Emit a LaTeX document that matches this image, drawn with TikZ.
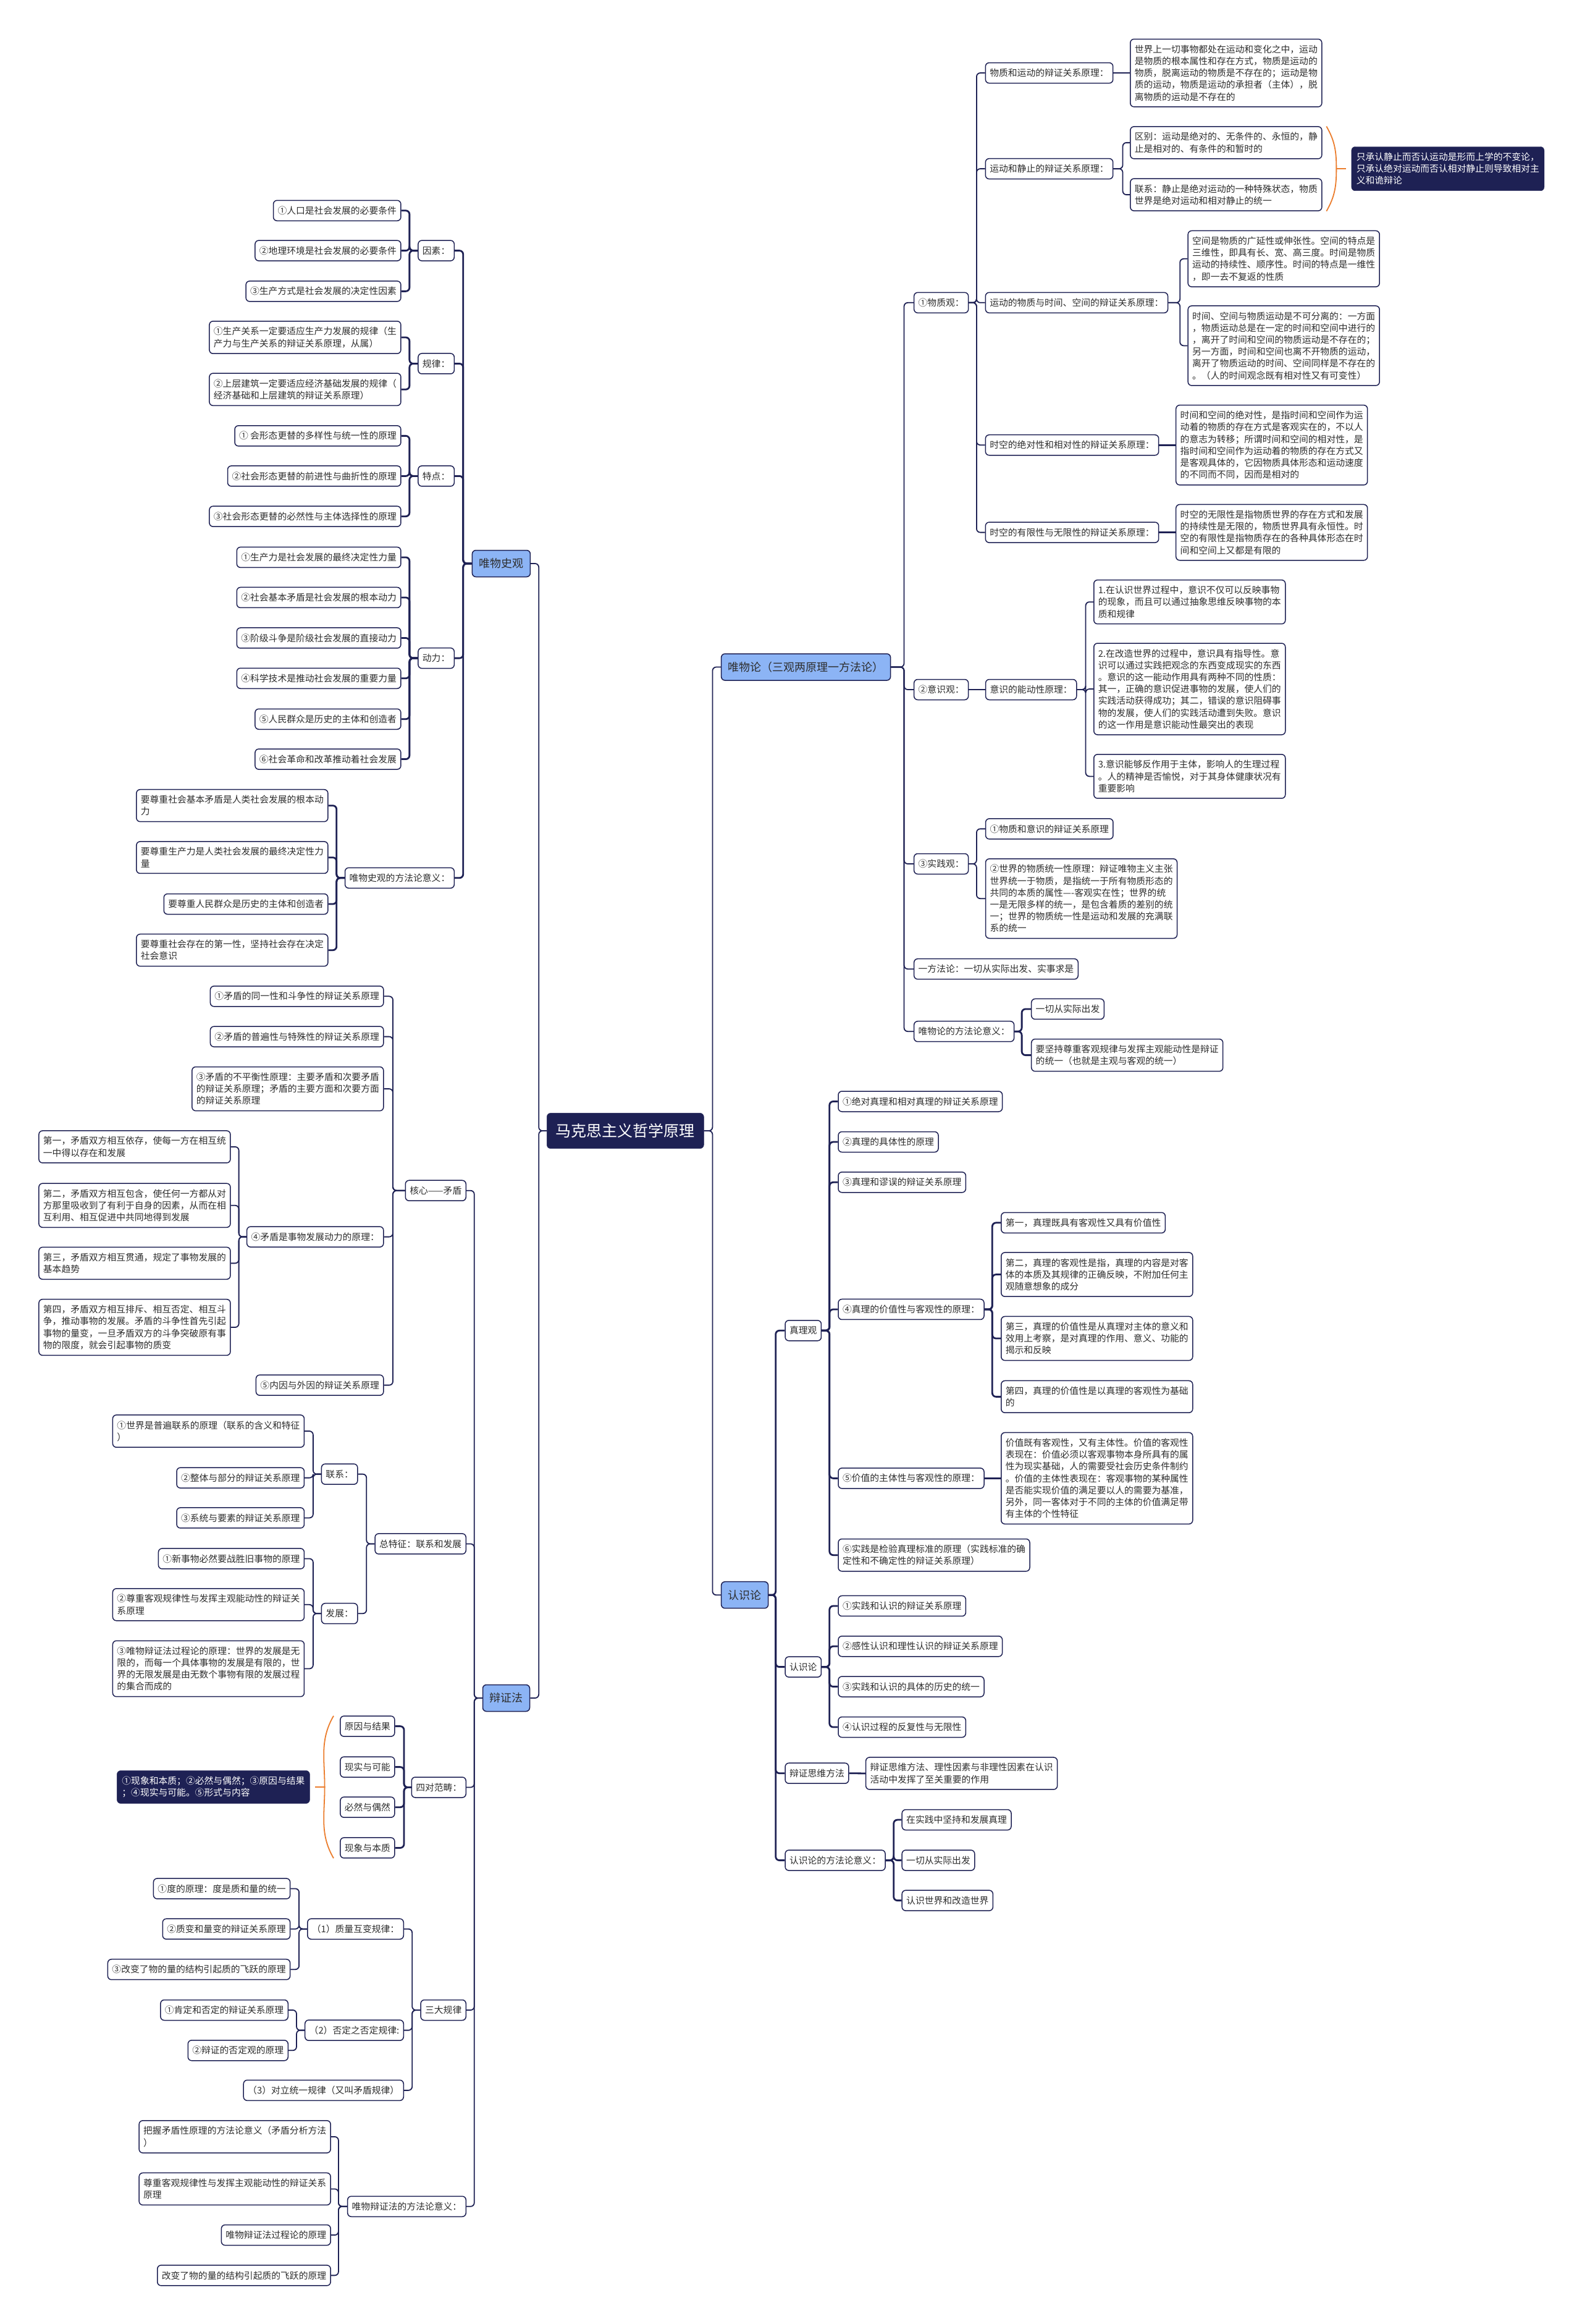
\documentclass[tikz,border=0pt]{standalone}
\usepackage{fontspec}
\setmainfont{Noto Sans CJK SC}
\definecolor{navy}{RGB}{30,33,84}
\definecolor{lblue}{RGB}{140,180,245}
\definecolor{txt}{RGB}{45,45,45}
\definecolor{orng}{RGB}{235,125,45}
\newcommand\fsN{\fontsize{14.8pt}{19.2pt}\selectfont}
\newcommand\fsL{\fontsize{18pt}{22pt}\selectfont}
\newcommand\fsR{\fontsize{25pt}{30pt}\selectfont}
\newcommand\conL[4][elb]{\draw[#1] (#2.west) -- (#2.west -| #4) |- (#3.east);}
\newcommand\conR[4][elb]{\draw[#1] (#2.east) -- (#2.east -| #4) |- (#3.west);}
\tikzset{
 box/.style={draw=navy, line width=1.5pt, rounded corners=6pt, fill=white, text=txt,
   inner xsep=7pt, inner ysep=9.5pt, align=left, font=\fsN, minimum height=33pt},
 lnode/.style={box, anchor=east},
 rnode/.style={box, anchor=west},
 lone/.style={draw=navy, line width=1.5pt, rounded corners=6pt, fill=lblue, text=txt,
   inner xsep=11pt, inner ysep=12pt, font=\fsL, minimum height=43pt},
 rootbox/.style={draw=navy, fill=navy, rounded corners=6pt, text=white,
   inner xsep=14.5pt, inner ysep=17pt, font=\fsR},
 sumbox/.style={draw=navy, fill=navy, rounded corners=6pt, text=white,
   inner xsep=8pt, inner ysep=9.5pt, align=left, font=\fsN},
 elb/.style={draw=navy, line width=2.8pt, rounded corners=6pt},
 crv/.style={draw=navy, line width=1.8pt, rounded corners=6pt},
 brk/.style={draw=orng, line width=1.8pt},
}
\begin{document}
\begin{tikzpicture}[x=2.4pt,y=-2.4pt]
\useasboundingbox (0,0) rectangle (1066.67,1567.08);
\fill[white] (0,0) rectangle (1066.67,1567.08);
% bus coordinates
\coordinate (b0L) at (363.4,0); \coordinate (b0R) at (480.6,0);
\coordinate (bA) at (312.4,0); \coordinate (bB) at (276.2,0); \coordinate (bC) at (227,0);
\coordinate (bD) at (319.9,0); \coordinate (bE) at (265,0); \coordinate (bF) at (161.1,0);
\coordinate (bG) at (247.2,0); \coordinate (bH) at (211.2,0); \coordinate (bI) at (272.5,0);
\coordinate (bJ) at (278,0); \coordinate (bK) at (201.7,0); \coordinate (bL) at (200,0);
\coordinate (bM) at (228.3,0); \coordinate (bN) at (609.8,0); \coordinate (bO) at (658.7,0);
\coordinate (bP) at (757.3,0); \coordinate (bQ) at (795.9,0); \coordinate (bR) at (732.3,0);
\coordinate (bS) at (689.2,0); \coordinate (bT) at (523.2,0); \coordinate (bU) at (559.5,0);
\coordinate (bV) at (669.3,0); \coordinate (bW) at (602.8,0);

% root and level 1
\node[rootbox] (root) at (421.8,762.5) {马克思主义哲学原理};
\node[lone,anchor=east] (wsg) at (358,380) {唯物史观};
\node[lone,anchor=east] (bzf) at (357.6,1145) {辩证法};
\node[lone,anchor=west] (wwl) at (486.2,449.8) {唯物论（三观两原理一方法论）};
\node[lone,anchor=west] (rsl) at (486.2,1075.5) {认识论};

% ---------- 唯物史观 ----------
\node[lnode] (A1) at (306.7,169) {因素：};
\node[lnode] (A2) at (306.7,245.2) {规律：};
\node[lnode] (A3) at (306.7,321) {特点：};
\node[lnode] (A4) at (306.7,443.8) {动力：};
\node[lnode] (A5) at (306.7,592) {唯物史观的方法论意义：};
\node[lnode] (A11) at (270.7,142) {①人口是社会发展的必要条件};
\node[lnode] (A12) at (270.7,169) {②地理环境是社会发展的必要条件};
\node[lnode] (A13) at (270.7,196.4) {③生产方式是社会发展的决定性因素};
\node[lnode] (A21) at (270.7,227.5) {①生产关系一定要适应生产力发展的规律（生\\产力与生产关系的辩证关系原理，从属）};
\node[lnode] (A22) at (270.7,262.6) {②上层建筑一定要适应经济基础发展的规律（\\经济基础和上层建筑的辩证关系原理）};
\node[lnode] (A31) at (270.7,293.9) {① 会形态更替的多样性与统一性的原理};
\node[lnode] (A32) at (270.7,321) {②社会形态更替的前进性与曲折性的原理};
\node[lnode] (A33) at (270.7,348.2) {③社会形态更替的必然性与主体选择性的原理};
\node[lnode] (A41) at (270.7,375.8) {①生产力是社会发展的最终决定性力量};
\node[lnode] (A42) at (270.7,402.9) {②社会基本矛盾是社会发展的根本动力};
\node[lnode] (A43) at (270.7,430.2) {③阶级斗争是阶级社会发展的直接动力};
\node[lnode] (A44) at (270.7,457.4) {④科学技术是推动社会发展的重要力量};
\node[lnode] (A45) at (270.7,484.9) {⑤人民群众是历史的主体和创造者};
\node[lnode] (A46) at (270.7,511.9) {⑥社会革命和改革推动着社会发展};
\node[lnode] (A51) at (221.5,543.2) {要尊重社会基本矛盾是人类社会发展的根本动\\力};
\node[lnode] (A52) at (221.5,578.2) {要尊重生产力是人类社会发展的最终决定性力\\量};
\node[lnode] (A53) at (221.5,609.6) {要尊重人民群众是历史的主体和创造者};
\node[lnode] (A54) at (221.5,640.7) {要尊重社会存在的第一性，坚持社会存在决定\\社会意识};

% ---------- 辩证法 ----------
\node[lnode] (B1) at (314.6,802.8) {核心——矛盾};
\node[lnode] (B2) at (314.6,1041) {总特征：联系和发展};
\node[lnode] (B3) at (314.6,1205.2) {四对范畴：};
\node[lnode] (B4) at (314.6,1355.4) {三大规律};
\node[lnode] (B5) at (314.6,1487.8) {唯物辩证法的方法论意义：};
\node[lnode] (B11) at (259,671.8) {①矛盾的同一性和斗争性的辩证关系原理};
\node[lnode] (B12) at (259,699) {②矛盾的普遍性与特殊性的辩证关系原理};
\node[lnode] (B13) at (259,734.2) {③矛盾的不平衡性原理：主要矛盾和次要矛盾\\的辩证关系原理；矛盾的主要方面和次要方面\\的辩证关系原理};
\node[lnode] (B14) at (259,834) {④矛盾是事物发展动力的原理：};
\node[lnode] (B15) at (259,934) {⑤内因与外因的辩证关系原理};
\node[lnode] (B141) at (155.7,773.3) {第一，矛盾双方相互依存，使每一方在相互统\\一中得以存在和发展};
\node[lnode] (B142) at (155.7,812.8) {第二，矛盾双方相互包含，使任何一方都从对\\方那里吸收到了有利于自身的因素，从而在相\\互利用、相互促进中共同地得到发展};
\node[lnode] (B143) at (155.7,851.8) {第三，矛盾双方相互贯通，规定了事物发展的\\基本趋势};
\node[lnode] (B144) at (155.7,895) {第四，矛盾双方相互排斥、相互否定、相互斗\\争，推动事物的发展。矛盾的斗争性首先引起\\事物的量变，一旦矛盾双方的斗争突破原有事\\物的限度，就会引起事物的质变};
\node[lnode] (B21) at (241.5,994) {联系：};
\node[lnode] (B22) at (241.5,1088) {发展：};
\node[lnode] (B211) at (205.5,965) {①世界是普遍联系的原理（联系的含义和特征\\）};
\node[lnode] (B212) at (205.5,996.5) {②整体与部分的辩证关系原理};
\node[lnode] (B213) at (205.5,1023.5) {③系统与要素的辩证关系原理};
\node[lnode] (B221) at (205.5,1051) {①新事物必然要战胜旧事物的原理};
\node[lnode] (B222) at (205.5,1082) {②尊重客观规律性与发挥主观能动性的辩证关\\系原理};
\node[lnode] (B223) at (205.5,1125.2) {③唯物辩证法过程论的原理：世界的发展是无\\限的，而每一个具体事物的发展是有限的，世\\界的无限发展是由无数个事物有限的发展过程\\的集合而成的};
\node[lnode] (B31) at (266.5,1164) {原因与结果};
\node[lnode] (B32) at (266.5,1191.5) {现实与可能};
\node[lnode] (B33) at (266.5,1218.6) {必然与偶然};
\node[lnode] (B34) at (266.5,1246) {现象与本质};
\node[sumbox,anchor=east] (B3s) at (209,1205) {①现象和本质；②必然与偶然；③原因与结果\\；④现实与可能。⑤形式与内容};
\node[lnode] (B41) at (272.5,1300.7) {（1）质量互变规律：};
\node[lnode] (B42) at (272.5,1369) {（2）否定之否定规律:};
\node[lnode] (B43) at (272.5,1409.5) {（3）对立统一规律（又叫矛盾规律）};
\node[lnode] (B411) at (196,1273.5) {①度的原理：度是质和量的统一};
\node[lnode] (B412) at (196,1300.7) {②质变和量变的辩证关系原理};
\node[lnode] (B413) at (196,1328) {③改变了物的量的结构引起质的飞跃的原理};
\node[lnode] (B421) at (194.6,1355.4) {①肯定和否定的辩证关系原理};
\node[lnode] (B422) at (194.6,1382.6) {②辩证的否定观的原理};
\node[lnode] (B51) at (223.3,1440.8) {把握矛盾性原理的方法论意义（矛盾分析方法\\）};
\node[lnode] (B52) at (223.3,1476) {尊重客观规律性与发挥主观能动性的辩证关系\\原理};
\node[lnode] (B53) at (223.3,1507.1) {唯物辩证法过程论的原理};
\node[lnode] (B54) at (223.3,1534.3) {改变了物的量的结构引起质的飞跃的原理};

% ---------- 唯物论 ----------
\node[rnode] (C1) at (616.2,204.1) {①物质观：};
\node[rnode] (C2) at (616.2,465) {②意识观：};
\node[rnode] (C3) at (616.2,582.5) {③实践观：};
\node[rnode] (C4) at (616.2,653.4) {一方法论：一切从实际出发、实事求是};
\node[rnode] (C5) at (616.2,695.5) {唯物论的方法论意义：};
\node[rnode] (C11) at (664.4,49.2) {物质和运动的辩证关系原理：};
\node[rnode] (C12) at (664.4,113.8) {运动和静止的辩证关系原理：};
\node[rnode] (C13) at (664.4,204.1) {运动的物质与时间、空间的辩证关系原理：};
\node[rnode] (C14) at (664.4,300.1) {时空的绝对性和相对性的辩证关系原理：};
\node[rnode] (C15) at (664.4,359) {时空的有限性与无限性的辩证关系原理：};
\node[rnode] (C111) at (762.1,49.2) {世界上一切事物都处在运动和变化之中，运动\\是物质的根本属性和存在方式，物质是运动的\\物质，脱离运动的物质是不存在的；运动是物\\质的运动，物质是运动的承担者（主体），脱\\离物质的运动是不存在的};
\node[rnode] (C121) at (762.1,96.2) {区别：运动是绝对的、无条件的、永恒的，静\\止是相对的、有条件的和暂时的};
\node[rnode] (C122) at (762.1,131.3) {联系：静止是绝对运动的一种特殊状态，物质\\世界是绝对运动和相对静止的统一};
\node[sumbox,anchor=west] (C12s) at (911.5,113.8) {只承认静止而否认运动是形而上学的不变论，\\只承认绝对运动而否认相对静止则导致相对主\\义和诡辩论};
\node[rnode] (C131) at (801,174.5) {空间是物质的广延性或伸张性。空间的特点是\\三维性，即具有长、宽、高三度。时间是物质\\运动的持续性、顺序性。时间的特点是一维性\\，即一去不复返的性质};
\node[rnode] (C132) at (801,233.1) {时间、空间与物质运动是不可分离的：一方面\\，物质运动总是在一定的时间和空间中进行的\\，离开了时间和空间的物质运动是不存在的；\\另一方面，时间和空间也离不开物质的运动，\\离开了物质运动的时间、空间同样是不存在的\\。（人的时间观念既有相对性又有可变性）};
\node[rnode] (C141) at (792.9,300.1) {时间和空间的绝对性，是指时间和空间作为运\\动着的物质的存在方式是客观实在的，不以人\\的意志为转移；所谓时间和空间的相对性，是\\指时间和空间作为运动着的物质的存在方式又\\是客观具体的，它因物质具体形态和运动速度\\的不同而不同，因而是相对的};
\node[rnode] (C151) at (792.9,359) {时空的无限性是指物质世界的存在方式和发展\\的持续性是无限的，物质世界具有永恒性。时\\空的有限性是指物质存在的各种具体形态在时\\间和空间上又都是有限的};
\node[rnode] (C21) at (664.5,465) {意识的能动性原理：};
\node[rnode] (C211) at (737.5,405.9) {1.在认识世界过程中，意识不仅可以反映事物\\的现象，而且可以通过抽象思维反映事物的本\\质和规律};
\node[rnode] (C212) at (737.5,464.6) {2.在改造世界的过程中，意识具有指导性。意\\识可以通过实践把观念的东西变成现实的东西\\。意识的这一能动作用具有两种不同的性质：\\其一，正确的意识促进事物的发展，使人们的\\实践活动获得成功；其二，错误的意识阻碍事\\物的发展，使人们的实践活动遭到失败。意识\\的这一作用是意识能动性最突出的表现};
\node[rnode] (C213) at (737.5,523.5) {3.意识能够反作用于主体，影响人的生理过程\\。人的精神是否愉悦，对于其身体健康状况有\\重要影响};
\node[rnode] (C31) at (664.5,558.9) {①物质和意识的辩证关系原理};
\node[rnode] (C32) at (664.5,605.9) {②世界的物质统一性原理：辩证唯物主义主张\\世界统一于物质，是指统一于所有物质形态的\\共同的本质的属性----客观实在性；世界的统\\一是无限多样的统一，是包含着质的差别的统\\一；世界的物质统一性是运动和发展的充满联\\系的统一};
\node[rnode] (C51) at (695.4,680.4) {一切从实际出发};
\node[rnode] (C52) at (695.4,711.5) {要坚持尊重客观规律与发挥主观能动性是辩证\\的统一（也就是主观与客观的统一）};

% ---------- 认识论 ----------
\node[rnode] (D1) at (529.3,897.2) {真理观};
\node[rnode] (D2) at (529.3,1124) {认识论};
\node[rnode] (D3) at (529.3,1195.7) {辩证思维方法};
\node[rnode] (D4) at (529.3,1254.4) {认识论的方法论意义：};
\node[rnode] (D11) at (565.1,742.7) {①绝对真理和相对真理的辩证关系原理};
\node[rnode] (D12) at (565.1,770) {②真理的具体性的原理};
\node[rnode] (D13) at (565.1,797.2) {③真理和谬误的辩证关系原理};
\node[rnode] (D14) at (565.1,882.9) {④真理的价值性与客观性的原理：};
\node[rnode] (D15) at (565.1,996.8) {⑤价值的主体性与客观性的原理：};
\node[rnode] (D16) at (565.1,1048.6) {⑥实践是检验真理标准的原理（实践标准的确\\定性和不确定性的辩证关系原理）};
\node[rnode] (D141) at (675,824.5) {第一，真理既具有客观性又具有价值性};
\node[rnode] (D142) at (675,859.4) {第二，真理的客观性是指，真理的内容是对客\\体的本质及其规律的正确反映，不附加任何主\\观随意想象的成分};
\node[rnode] (D143) at (675,902.5) {第三，真理的价值性是从真理对主体的意义和\\效用上考察，是对真理的作用、意义、功能的\\揭示和反映};
\node[rnode] (D144) at (675,941.8) {第四，真理的价值性是以真理的客观性为基础\\的};
\node[rnode] (D151) at (675,996.8) {价值既有客观性，又有主体性。价值的客观性\\表现在：价值必须以客观事物本身所具有的属\\性为现实基础，人的需要受社会历史条件制约\\。价值的主体性表现在：客观事物的某种属性\\是否能实现价值的满足要以人的需要为基准，\\另外，同一客体对于不同的主体的价值满足带\\有主体的个性特征};
\node[rnode] (D21) at (565.1,1082.9) {①实践和认识的辩证关系原理};
\node[rnode] (D22) at (565.1,1110.1) {②感性认识和理性认识的辩证关系原理};
\node[rnode] (D23) at (565.1,1137.3) {③实践和认识的具体的历史的统一};
\node[rnode] (D24) at (565.1,1164.6) {④认识过程的反复性与无限性};
\node[rnode] (D31) at (583.7,1195.8) {辩证思维方法、理性因素与非理性因素在认识\\活动中发挥了至关重要的作用};
\node[rnode] (D41) at (608.1,1227.1) {在实践中坚持和发展真理};
\node[rnode] (D42) at (608.1,1254.4) {一切从实际出发};
\node[rnode] (D43) at (608.1,1281.5) {认识世界和改造世界};

% ---------- connectors ----------
\conL[crv]{root}{wsg}{b0L} \conL[crv]{root}{bzf}{b0L}
\conR[crv]{root}{wwl}{b0R} \conR[crv]{root}{rsl}{b0R}
\conL{wsg}{A1}{bA} \conL{wsg}{A2}{bA} \conL{wsg}{A3}{bA} \conL{wsg}{A4}{bA} \conL{wsg}{A5}{bA}
\conL{A1}{A11}{bB} \conL{A1}{A12}{bB} \conL{A1}{A13}{bB}
\conL{A2}{A21}{bB} \conL{A2}{A22}{bB}
\conL{A3}{A31}{bB} \conL{A3}{A32}{bB} \conL{A3}{A33}{bB}
\conL{A4}{A41}{bB} \conL{A4}{A42}{bB} \conL{A4}{A43}{bB}
\conL{A4}{A44}{bB} \conL{A4}{A45}{bB} \conL{A4}{A46}{bB}
\conL{A5}{A51}{bC} \conL{A5}{A52}{bC} \conL{A5}{A53}{bC} \conL{A5}{A54}{bC}
\conL[crv]{bzf}{B1}{bD} \conL[crv]{bzf}{B2}{bD} \conL[crv]{bzf}{B3}{bD}
\conL[crv]{bzf}{B4}{bD} \conL[crv]{bzf}{B5}{bD}
\conL[crv]{B1}{B11}{bE} \conL[crv]{B1}{B12}{bE} \conL[crv]{B1}{B13}{bE}
\conL[crv]{B1}{B14}{bE} \conL[crv]{B1}{B15}{bE}
\conL[crv]{B14}{B141}{bF} \conL[crv]{B14}{B142}{bF} \conL[crv]{B14}{B143}{bF} \conL[crv]{B14}{B144}{bF}
\conL[crv]{B2}{B21}{bG} \conL[crv]{B2}{B22}{bG}
\conL[crv]{B21}{B211}{bH} \conL[crv]{B21}{B212}{bH} \conL[crv]{B21}{B213}{bH}
\conL[crv]{B22}{B221}{bH} \conL[crv]{B22}{B222}{bH} \conL[crv]{B22}{B223}{bH}
\conL{B3}{B31}{bI} \conL{B3}{B32}{bI} \conL{B3}{B33}{bI} \conL{B3}{B34}{bI}
\conL[crv]{B4}{B41}{bJ} \conL[crv]{B4}{B42}{bJ} \conL[crv]{B4}{B43}{bJ}
\conL[crv]{B41}{B411}{bK} \conL[crv]{B41}{B412}{bK} \conL[crv]{B41}{B413}{bK}
\conL[crv]{B42}{B421}{bL} \conL[crv]{B42}{B422}{bL}
\conL[crv]{B5}{B51}{bM} \conL[crv]{B5}{B52}{bM} \conL[crv]{B5}{B53}{bM} \conL[crv]{B5}{B54}{bM}
\conR[crv]{wwl}{C1}{bN} \conR[crv]{wwl}{C2}{bN} \conR[crv]{wwl}{C3}{bN}
\conR[crv]{wwl}{C4}{bN} \conR[crv]{wwl}{C5}{bN}
\conR[crv]{C1}{C11}{bO} \conR[crv]{C1}{C12}{bO} \conR[crv]{C1}{C13}{bO}
\conR[crv]{C1}{C14}{bO} \conR[crv]{C1}{C15}{bO}
\draw[elb] (C11.east) -- (C111.west);
\conR[crv]{C12}{C121}{bP} \conR[crv]{C12}{C122}{bP}
\conR[crv]{C13}{C131}{bQ} \conR[crv]{C13}{C132}{bQ}
\draw[elb] (C14.east) -- (C141.west);
\draw[elb] (C15.east) -- (C151.west);
\draw[elb] (C2.east) -- (C21.west);
\conR[crv]{C21}{C211}{bR} \conR[crv]{C21}{C212}{bR} \conR[crv]{C21}{C213}{bR}
\conR[crv]{C3}{C31}{bO} \conR[crv]{C3}{C32}{bO}
\conR{C5}{C51}{bS} \conR{C5}{C52}{bS}
\conR{rsl}{D1}{bT} \conR{rsl}{D2}{bT} \conR{rsl}{D3}{bT} \conR{rsl}{D4}{bT}
\conR{D1}{D11}{bU} \conR{D1}{D12}{bU} \conR{D1}{D13}{bU}
\conR{D1}{D14}{bU} \conR{D1}{D15}{bU} \conR{D1}{D16}{bU}
\conR{D14}{D141}{bV} \conR{D14}{D142}{bV} \conR{D14}{D143}{bV} \conR{D14}{D144}{bV}
\draw[elb] (D15.east) -- (D151.west);
\conR{D2}{D21}{bU} \conR{D2}{D22}{bU} \conR{D2}{D23}{bU} \conR{D2}{D24}{bU}
\draw[elb] (D3.east) -- (D31.west);
\conR{D4}{D41}{bW} \conR{D4}{D42}{bW} \conR{D4}{D43}{bW}

% ---------- summary brackets ----------
\coordinate (k1t) at (894.7,85.2); \coordinate (k1m) at (901.4,113.8);
\coordinate (k1b) at (894.7,142.4); \coordinate (k1e) at (908,113.8);
\draw[brk] (k1t) to[out=-60,in=90] (k1m) to[out=-90,in=60] (k1b);
\draw[brk] (k1m) -- (k1e);
\coordinate (k2t) at (225,1157); \coordinate (k2m) at (219,1205);
\coordinate (k2b) at (225,1253); \coordinate (k2e) at (212.6,1205);
\draw[brk] (k2t) to[out=-120,in=90] (k2m) to[out=-90,in=120] (k2b);
\draw[brk] (k2m) -- (k2e);
\end{tikzpicture}
\end{document}
